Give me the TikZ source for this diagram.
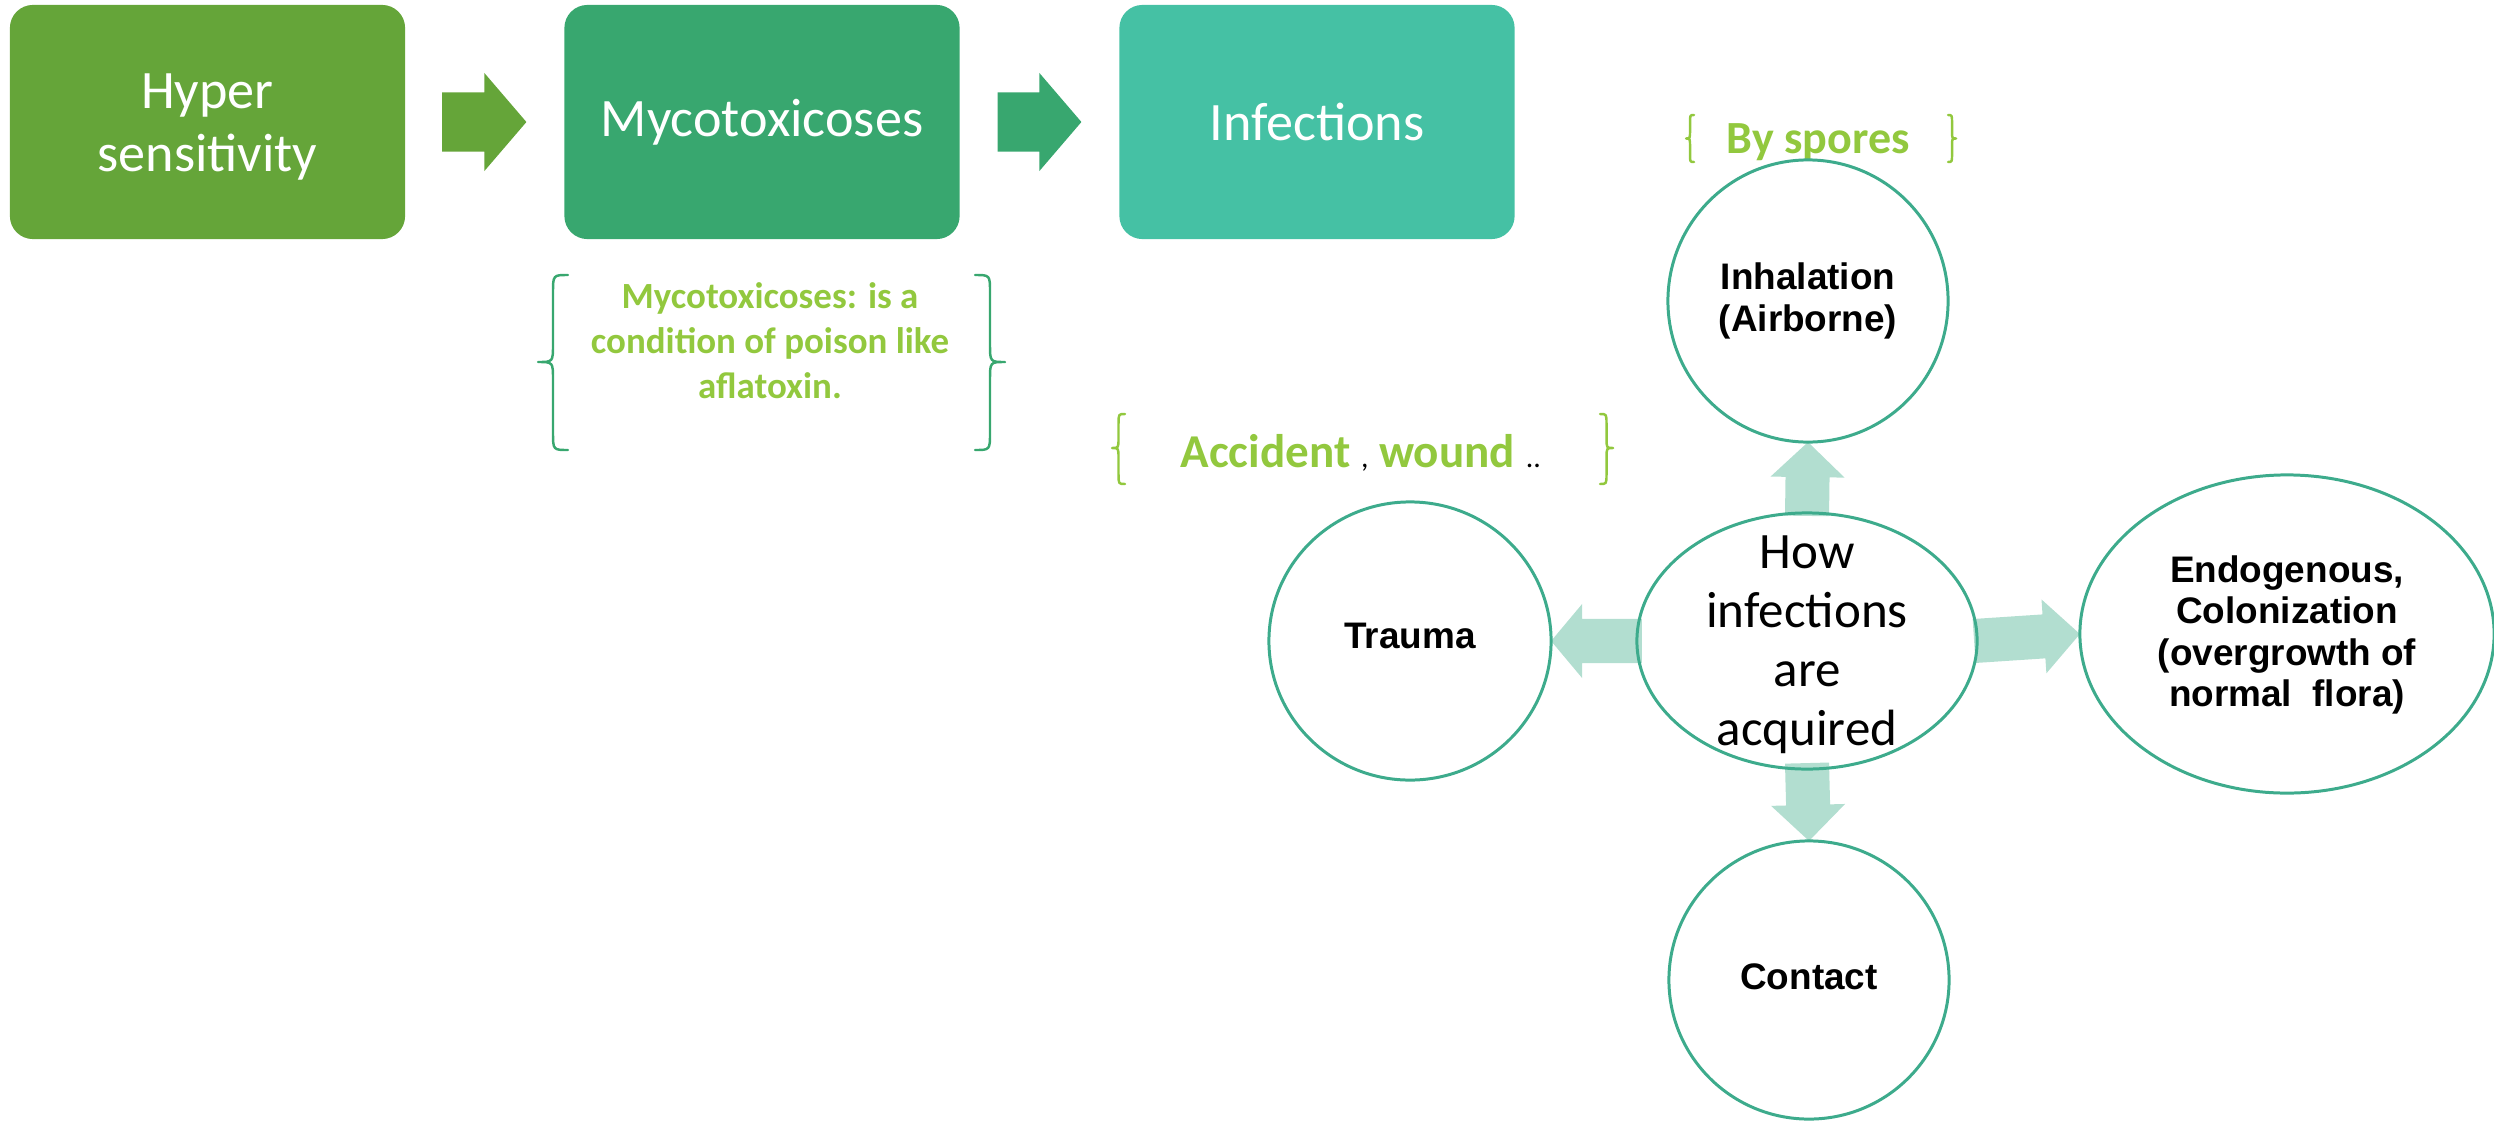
\documentclass[tikz,border=0pt]{standalone}
\usepackage{fontspec}
\setmainfont{Carlito}
\newfontfamily\gothic{Liberation Sans}
\usetikzlibrary{shapes.geometric,calc,backgrounds}
\definecolor{gA}{HTML}{65A539}
\definecolor{gB}{HTML}{38A76F}
\definecolor{gC}{HTML}{45C1A4}
\definecolor{ringc}{HTML}{3DAB8C}
\definecolor{lightarr}{HTML}{B2DED0}
\definecolor{limec}{HTML}{92C83E}
\newcommand\blockarr[6]{%
  \coordinate (ba-h) at ($(#2)!#6!(#1)$);
  \fill[#3] ($(#1)!#4!90:(#2)$) -- ($(ba-h)!#4!90:(#2)$) -- ($(ba-h)!#5!90:(#2)$) -- (#2)
    -- ($(ba-h)!#5!-90:(#2)$) -- ($(ba-h)!#4!-90:(#2)$) -- ($(#1)!#4!-90:(#2)$) -- cycle;}
\begin{document}
\begin{tikzpicture}[x=0.01cm,y=-0.01cm,
  box/.style={rounded corners=0.23cm, minimum width=3.95cm, minimum height=2.34cm,
    inner sep=0, outer sep=0, text=white, align=center,
    font=\fontsize{15.4}{17.9}\selectfont},
  ring/.style={ellipse, draw=ringc, line width=0.85pt, inner sep=0, outer sep=0},
  bt/.style={font=\gothic\bfseries\fontsize{10.5}{11.7}\selectfont, align=center, inner sep=0},
  ct/.style={font=\fontsize{14.5}{16.8}\selectfont, align=center, inner sep=0},
  note/.style={font=\bfseries\fontsize{10.5}{12.8}\selectfont, text=limec, align=center, inner sep=0},
  brace/.style={line width=0.7pt, line join=round, line cap=round}]
\useasboundingbox (0,0) rectangle (2494,1121);

% top row boxes
\node[box, fill=gA] (b1) at (207.5,122) {\rule{0pt}{12.9pt}Hyper\\sensitivity};
\node[box, fill=gB] (b2) at (762,122) {Mycotoxicoses};
\node[box, fill=gC] (b3) at (1317,122) {Infections};
\coordinate (a1s) at ($(b1.east)+(37,0)$);
\coordinate (a1t) at ($(b2.west)+(-38,0)$);
\coordinate (a2s) at ($(b2.east)+(38,0)$);
\coordinate (a2t) at ($(b3.west)+(-38,0)$);
\blockarr{a1s}{a1t}{gA}{0.295cm}{0.49cm}{0.42cm}
\blockarr{a2s}{a2t}{gB}{0.295cm}{0.49cm}{0.42cm}

% note under Mycotoxicoses
\draw[brace, draw=gB] (568,275) .. controls (553,275) .. (553,293) -- (553,344)
  .. controls (553,362) .. (538,362) .. controls (553,362) .. (553,380) -- (553,432)
  .. controls (553,450) .. (568,450);
\draw[brace, draw=gB] (975,275) .. controls (990,275) .. (990,293) -- (990,344)
  .. controls (990,362) .. (1005,362) .. controls (990,362) .. (990,380) -- (990,432)
  .. controls (990,450) .. (975,450);
\node[note] (myco) at (770,341) {Mycotoxicoses: is a\\condition of poison like\\aflatoxin.};

% accident, wound
\draw[brace, draw=limec] (1125,414) .. controls (1118.5,414) .. (1118.5,424) -- (1118.5,438)
  .. controls (1118.5,448) .. (1112,448) .. controls (1118.5,448) .. (1118.5,458) -- (1118.5,474)
  .. controls (1118.5,484) .. (1125,484);
\draw[brace, draw=limec] (1600,414) .. controls (1606.5,414) .. (1606.5,424) -- (1606.5,438)
  .. controls (1606.5,448) .. (1613,448) .. controls (1606.5,448) .. (1606.5,458) -- (1606.5,474)
  .. controls (1606.5,484) .. (1600,484);
\node[anchor=base west, inner sep=0, text=limec, font=\bfseries\fontsize{13.4}{16}\selectfont] (acc) at (1180,467)
  {Accident {\mdseries\color{black}\fontsize{8.5}{10}\selectfont,} wound {\mdseries\color{black}\fontsize{8.5}{10}\selectfont..}};

% by spores
\draw[brace, draw=limec] (1694,115) .. controls (1690,115) .. (1690,123) -- (1690,131)
  .. controls (1690,138.5) .. (1686,138.5) .. controls (1690,138.5) .. (1690,146) -- (1690,154)
  .. controls (1690,162) .. (1694,162);
\draw[brace, draw=limec] (1948,115) .. controls (1952,115) .. (1952,123) -- (1952,131)
  .. controls (1952,138.5) .. (1956,138.5) .. controls (1952,138.5) .. (1952,146) -- (1952,154)
  .. controls (1952,162) .. (1948,162);
\node[anchor=base west, inner sep=0, text=limec, font=\bfseries\fontsize{13.1}{16}\selectfont] (spores) at (1726,153) {By spores};

% circles
\node[ring, minimum width=3.4cm, minimum height=2.56cm] (c) at (1807,641) {};
\node[ring, minimum width=2.8cm, minimum height=2.82cm] (inh) at (1808,301) {};
\node[ring, minimum width=2.82cm, minimum height=2.78cm] (tr) at (1410,641) {};
\node[ring, minimum width=4.14cm, minimum height=3.18cm] (en) at (2287,634) {};
\node[ring, minimum width=2.8cm, minimum height=2.78cm] (co) at (1809,980) {};

\node[ct] (ct) at ($(c)+(0,4)$) {How\\infections\\are\\acquired};
\node[bt] (inht) at (inh) {Inhalation\\(Airborne)};
\node[bt] (trt) at ($(tr)+(0,-5)$) {Trauma};
\node[bt] (ent) at ($(en)+(0,1)$) {Endogenous,\\Colonization\\(overgrowth of\\normal\ \ flora)};
\node[bt] (cot) at ($(co)+(0,-3.5)$) {Contact};

\coordinate (cu) at ($(c.north)+(0,3)$);
\coordinate (cl) at ($(c.west)+(5,0)$);
\coordinate (cr) at ($(c.east)+(-3,0)$);
\coordinate (cd) at ($(c.south)+(0,-6)$);
\begin{scope}[on background layer]
\blockarr{cu}{inh.south}{lightarr}{0.22cm}{0.37cm}{0.35cm}
\blockarr{cl}{tr.east}{lightarr}{0.22cm}{0.37cm}{0.31cm}
\blockarr{cr}{en.west}{lightarr}{0.22cm}{0.37cm}{0.36cm}
\blockarr{cd}{co.north}{lightarr}{0.22cm}{0.37cm}{0.36cm}
\end{scope}
\end{tikzpicture}
\end{document}
